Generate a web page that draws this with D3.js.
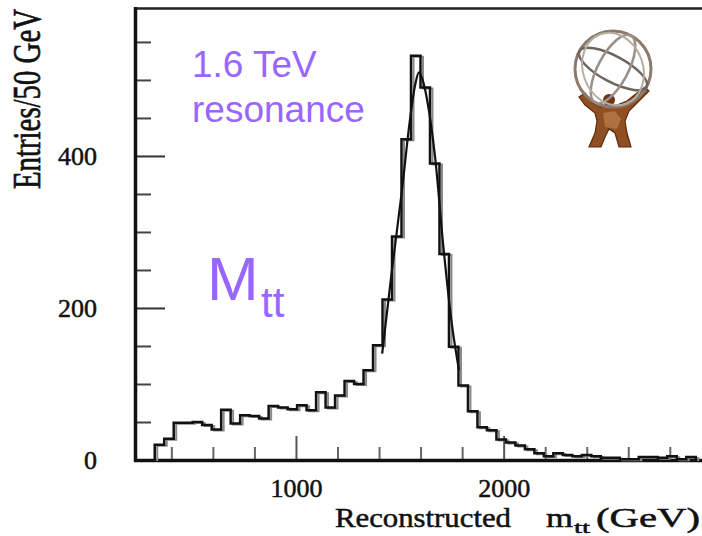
<!DOCTYPE html>
<html>
<head>
<meta charset="utf-8">
<script src="https://cdn.jsdelivr.net/npm/d3@7"></script>
<style>
  body { margin: 0; background: #fff; }
  svg { display: block; }
</style>
</head>
<body>
<div id="chart"></div>
<script>
// reconstructed m_tt histogram
const binStart = 320;      // GeV, low edge of first bin
const binWidth = 45.7;     // GeV
const entries = [20, 28, 49, 49, 50, 46, 40, 66, 48, 59, 58, 54.5, 71, 69, 66.7, 72, 65.4, 89, 69, 85,
  104, 100, 118, 151, 211, 294, 422, 532, 490, 390, 271, 149, 98, 64, 43, 39, 27, 23, 19, 14,
  9, 5, 9, 6.5, 5, 6.5, 5, 3, 3, 1, 1, 4, 4, 3, 5, 1, 4];

// fitted curve over the peak
const fitMass = [1415, 1460, 1510, 1550, 1575, 1592, 1610, 1630, 1670, 1710, 1750, 1785];
const fitEntries = [140, 245, 354, 450, 495, 510, 500, 476, 398, 280, 180, 118];

const xMajorTicks = [1000, 2000];
const xMinorTicks = [400, 600, 800, 1200, 1400, 1600, 1800, 2200, 2400, 2600, 2800];
const yMajorTicks = [0, 200, 400];
const yMinorTicks = [50, 100, 150, 250, 300, 350, 450, 500, 550];

const svgWidth = 702, svgHeight = 536;
const purple = "#9966ff";
const serif = "'Liberation Serif', 'Times New Roman', serif";

const svg = d3.select("#chart").append("svg")
  .attr("width", svgWidth)
  .attr("height", svgHeight);

const x = d3.scaleLinear().domain([225, 2955]).range([135, 702]);
const y = d3.scaleLinear().domain([0, 594]).range([460, 8.5]);

// x ticks (inward)
svg.append("g")
  .attr("transform", `translate(0, ${y(0)})`)
  .call(d3.axisBottom(x).tickValues(xMinorTicks).tickSize(-13).tickFormat(""))
  .call(g => g.select(".domain").remove())
  .call(g => g.selectAll("line").attr("stroke", "#666").attr("stroke-width", 2));

svg.append("g")
  .attr("transform", `translate(0, ${y(0)})`)
  .call(d3.axisBottom(x).tickValues(xMajorTicks).tickSize(-24).tickPadding(19).tickFormat(d3.format("d")))
  .call(g => g.select(".domain").remove())
  .call(g => g.selectAll("line").attr("stroke", "#555").attr("stroke-width", 2))
  .call(g => g.selectAll("text")
    .attr("font-family", serif)
    .attr("font-size", 26)
    .attr("fill", "#111")
    .attr("stroke", "#111")
    .attr("stroke-width", 0.5));

// y ticks (inward)
svg.append("g")
  .attr("transform", `translate(${x(225)}, 0)`)
  .call(d3.axisLeft(y).tickValues(yMinorTicks).tickSize(-16).tickFormat(""))
  .call(g => g.select(".domain").remove())
  .call(g => g.selectAll("line").attr("stroke", "#444").attr("stroke-width", 2));

svg.append("g")
  .attr("transform", `translate(${x(225)}, 0)`)
  .call(d3.axisLeft(y).tickValues(yMajorTicks).tickSize(-30).tickPadding(38).tickFormat(d3.format("d")))
  .call(g => g.select(".domain").remove())
  .call(g => g.selectAll("line").attr("stroke", "#333").attr("stroke-width", 2))
  .call(g => g.selectAll("text")
    .attr("font-family", serif)
    .attr("font-size", 26)
    .attr("fill", "#111")
    .attr("stroke", "#111")
    .attr("stroke-width", 0.5));

// frame
svg.append("line").attr("x1", 135).attr("x2", 702).attr("y1", 8.5).attr("y2", 8.5)
  .attr("stroke", "#222").attr("stroke-width", 2.5);
svg.append("line").attr("x1", 135.5).attr("x2", 135.5).attr("y1", 7).attr("y2", 462)
  .attr("stroke", "#111").attr("stroke-width", 3.5);
svg.append("line").attr("x1", 134).attr("x2", 702).attr("y1", 460.5).attr("y2", 460.5)
  .attr("stroke", "#111").attr("stroke-width", 3.5);

// histogram as step line
const edges = entries.map((d, i) => binStart + i * binWidth);
const lastEdge = binStart + entries.length * binWidth;
const stepPts = [[edges[0], 0]]
  .concat(entries.map((d, i) => [edges[i], d]))
  .concat([[lastEdge, entries[entries.length - 1]], [lastEdge, 0]]);

const stepLine = d3.line()
  .x(d => x(d[0]))
  .y(d => y(d[1]))
  .curve(d3.curveStepAfter);

// faint shifted copy gives the doubled look of the original scan
svg.append("path")
  .attr("d", stepLine(stepPts))
  .attr("transform", "translate(2.5, 1)")
  .attr("fill", "none")
  .attr("stroke", "#8a8a8a")
  .attr("stroke-width", 2);

svg.append("path")
  .attr("d", stepLine(stepPts))
  .attr("fill", "none")
  .attr("stroke", "#111")
  .attr("stroke-width", 2.5);

// fit curve
const fitLine = d3.line()
  .x((d, i) => x(fitMass[i]))
  .y(d => y(d))
  .curve(d3.curveMonotoneX);

svg.append("path")
  .attr("d", fitLine(fitEntries))
  .attr("fill", "none")
  .attr("stroke", "#111")
  .attr("stroke-width", 2.2);

// axis titles
svg.append("text")
  .attr("transform", "translate(40, 99) rotate(-90) scale(1, 1.35)")
  .attr("text-anchor", "middle")
  .attr("font-family", serif)
  .attr("font-size", 29)
  .attr("fill", "#111")
  .attr("stroke", "#111")
  .attr("stroke-width", 0.5)
  .attr("textLength", 180)
  .attr("lengthAdjust", "spacingAndGlyphs")
  .text("Entries/50 GeV");

const xTitle = svg.append("g")
  .attr("font-family", serif)
  .attr("fill", "#111")
  .attr("stroke", "#111")
  .attr("stroke-width", 0.5);
xTitle.append("text").attr("x", 335).attr("y", 527).attr("font-size", 28)
  .attr("textLength", 176).attr("lengthAdjust", "spacingAndGlyphs").text("Reconstructed");
xTitle.append("text").attr("x", 546).attr("y", 527).attr("font-size", 28)
  .attr("textLength", 27).attr("lengthAdjust", "spacingAndGlyphs").text("m");
xTitle.append("text").attr("x", 574).attr("y", 533).attr("font-size", 17)
  .attr("textLength", 16).attr("lengthAdjust", "spacingAndGlyphs").text("tt");
xTitle.append("text").attr("x", 596).attr("y", 527).attr("font-size", 28)
  .attr("textLength", 104).attr("lengthAdjust", "spacingAndGlyphs").text("(GeV)");

// purple annotations
const notes = svg.append("g")
  .attr("font-family", "'Liberation Sans', Arial, sans-serif")
  .attr("fill", purple);
notes.append("text").attr("x", 192).attr("y", 77).attr("font-size", 37).text("1.6 TeV");
notes.append("text").attr("x", 192).attr("y", 122).attr("font-size", 37).text("resonance");
notes.append("text").attr("x", 207).attr("y", 300).attr("font-size", 62).text("M");
notes.append("text").attr("x", 261).attr("y", 317).attr("font-size", 42).text("tt");

// little Atlas figure holding the globe
const logo = svg.append("g").attr("transform", "translate(613, 69)");
logo.append("path")
  .attr("d", "M-34,28 L-28,24 L-20,34 L-12,38 L-4,36 L4,36 L14,32 L24,24 L32,18 L36,22 L26,32 L16,42 L12,52 L14,64 L18,78 L6,78 L2,64 L-4,60 L-8,68 L-12,78 L-24,78 L-18,64 L-16,52 L-18,44 L-28,36 Z")
  .attr("fill", "#8e4f22")
  .attr("stroke", "#5c2d0e")
  .attr("stroke-width", 1.2);
logo.append("path")
  .attr("d", "M-10,44 L2,42 L8,50 L4,60 L-8,58 Z")
  .attr("fill", "#b77a48")
  .attr("opacity", 0.8);
logo.append("circle").attr("cx", -4).attr("cy", 31).attr("r", 6).attr("fill", "#6e3512");
logo.append("circle").attr("r", 38).attr("fill", "none").attr("stroke", "#8c7b6c").attr("stroke-width", 3);
logo.append("ellipse").attr("rx", 38).attr("ry", 13).attr("transform", "rotate(28)")
  .attr("fill", "none").attr("stroke", "#6e655e").attr("stroke-width", 2.5);
logo.append("ellipse").attr("rx", 15).attr("ry", 38).attr("transform", "rotate(28)")
  .attr("fill", "none").attr("stroke", "#9a9088").attr("stroke-width", 2.5);
logo.append("ellipse").attr("rx", 30).attr("ry", 37).attr("transform", "rotate(-20)")
  .attr("fill", "none").attr("stroke", "#b5aca2").attr("stroke-width", 2);
</script>
</body>
</html>
